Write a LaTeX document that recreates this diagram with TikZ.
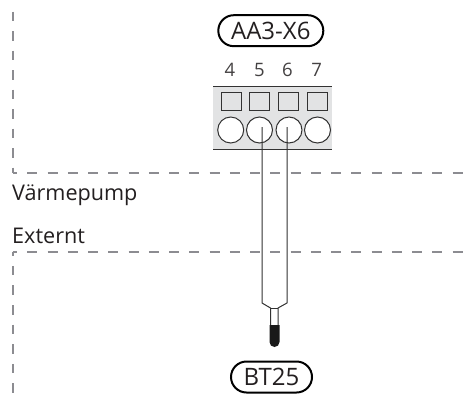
\documentclass[tikz,border=0pt]{standalone}
\usepackage{fontspec}
\setmainfont{Open Sans}
\definecolor{dashgrey}{RGB}{140,140,145}
\definecolor{blockgrey}{RGB}{226,227,228}
\definecolor{wiregrey}{RGB}{50,50,50}
\definecolor{txt}{RGB}{35,31,32}
\usetikzlibrary{shapes.misc}
\tikzset{
  px/.style={x=1pt,y=-1pt},
  pill/.style={draw=black,line width=2pt,rounded rectangle,minimum height=31pt,inner sep=0pt,text=txt,font=\fontsize{24}{24}\selectfont},
  numlabel/.style={inner sep=0pt,text=txt!85,font=\fontsize{18.5}{19}\selectfont},
  zonelabel/.style={inner sep=0pt,anchor=base west,text=txt,font=\fontsize{21.6}{22}\selectfont},
  border/.style={draw=dashgrey,line width=1.6pt},
  slot/.style={draw=wiregrey,fill=blockgrey,line width=1pt},
  hole/.style={draw=wiregrey,fill=white,line width=1pt},
  wire/.style={draw=wiregrey,line width=1pt,line join=round}
}
\begin{document}
\begin{tikzpicture}[px]
\useasboundingbox (0,0) rectangle (470,396);
\fill[white] (0,0) rectangle (470,396);
% zone borders
\coordinate (a0) at (12.7,11.7);
\coordinate (a1) at (12.7,172.7);
\coordinate (a2) at (470,172.7);
\coordinate (b1) at (12.7,251.7);
\coordinate (b2) at (470,251.7);
\coordinate (b3) at (12.7,396);
\draw[border,dash pattern=on 9.5pt off 10pt] (a0) -- (a1);
\draw[border,dash pattern=on 10.2pt off 10.05pt,dash phase=5.7pt] (a1) -- (a2);
\draw[border,dash pattern=on 10.2pt off 10.05pt,dash phase=5.7pt] (b1) -- (b2);
\draw[border,dash pattern=on 9.5pt off 10.1pt,dash phase=5.5pt] (b1) -- (b3);
\node[zonelabel] (vp) at (12,200) {Värmepump};
\node[zonelabel] (ex) at (12,243) {Externt};
% terminal block
\fill[blockgrey] (213,86) rectangle (332,149);
\draw[wiregrey,line width=1pt] (213,86) -- (332,86);
\draw[wiregrey,line width=1pt] (213,149) -- (332,149);
\foreach \xx in {221,249.5,278.5,307.5}{
  \draw[slot] (\xx,92) rectangle ++(20,18);
}
\foreach \xx in {230.7,259.5,289,317.5}{
  \draw[hole] (\xx,130) circle (13);
}
\node[numlabel] (n4) at (230,69.5) {4};
\node[numlabel] (n5) at (259.3,69.5) {5};
\node[numlabel] (n6) at (287.5,69.5) {6};
\node[numlabel] (n7) at (316.7,69.5) {7};
% cable and sensor
\draw[wire] (262,127) -- (262,303) -- (270.5,308) -- (270.5,325);
\draw[wire] (287,127) -- (287,303) -- (278,308) -- (278,325);
\draw[wire] (270.5,308) -- (278,308);
\fill[black!90] (269.5,325) -- (279.5,325) -- (279.5,342) arc[start angle=0,end angle=180,radius=5] -- cycle;
% pills
\node[pill,minimum width=105pt] (aa) at (270.8,30.7) {AA3-X6};
\node[pill,minimum width=81pt] (bt) at (271.5,377) {BT25};
\end{tikzpicture}
\end{document}
